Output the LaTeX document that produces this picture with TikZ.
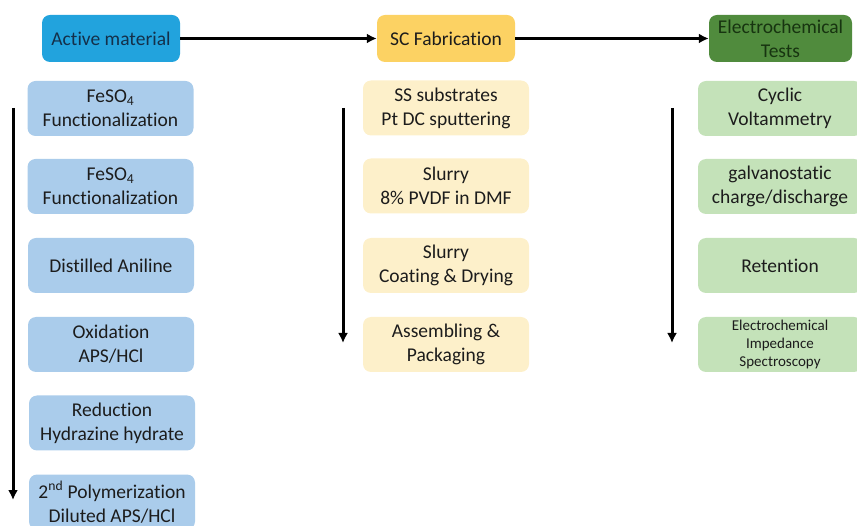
\documentclass[tikz,border=0pt]{standalone}
\usepackage{fontspec}
\setmainfont{Carlito}[Ligatures=NoCommon]
\usetikzlibrary{arrows.meta}

\definecolor{hdrblue}{HTML}{22A3DD}
\definecolor{boxblue}{HTML}{AACCEB}
\definecolor{hdryellow}{HTML}{FCD263}
\definecolor{boxyellow}{HTML}{FDF0CA}
\definecolor{hdrgreen}{HTML}{508B3D}
\definecolor{boxgreen}{HTML}{C4E2B9}
\definecolor{txtdark}{HTML}{1C1C1C}
\definecolor{txtnavy}{HTML}{14304A}
\definecolor{txtgreen}{HTML}{173410}

\tikzset{
  card/.style={rounded corners=8pt, align=center, text=txtdark,
    font=\fontsize{19.5}{24}\selectfont, inner sep=0pt},
  header/.style={card, minimum width=138pt, minimum height=47pt},
  stepcard/.style={card, minimum width=166pt, minimum height=55pt},
  flow/.style={line width=3pt, -{Latex[length=10pt,width=10pt]}},
}

\begin{document}
\begin{tikzpicture}[x=1pt, y=-1pt]
\useasboundingbox (0,0) rectangle (857,526);
\clip (0,0) rectangle (857,526);

% column headers
\node[header, fill=hdrblue, text=txtnavy] (act) at (111,38.5) {Active material};
\node[header, fill=hdryellow] (fab) at (446,38.5) {SC Fabrication};
\node[header, fill=hdrgreen, minimum width=143pt, text=txtgreen] (ect) at (780.5,38.5) {Electrochemical\\Tests};

\draw[flow] (act) -- (fab);
\draw[flow] (fab) -- (ect);

% active material steps
\node[stepcard, fill=boxblue] (a1) at (110.5,108.5) {FeSO\textsubscript{4}\\Functionalization};
\node[stepcard, fill=boxblue] (a2) at (110.5,186.5) {FeSO\textsubscript{4}\\Functionalization};
\node[stepcard, fill=boxblue] (a3) at (111,265.5) {Distilled Aniline};
\node[stepcard, fill=boxblue] (a4) at (111,344.5) {Oxidation\\APS/HCl};
\node[stepcard, fill=boxblue] (a5) at (112,423) {Reduction\\Hydrazine hydrate};
\node[stepcard, fill=boxblue] (a6) at (112,502) {2\textsuperscript{nd} Polymerization\\Diluted APS/HCl};

% fabrication steps
\node[stepcard, fill=boxyellow] (f1) at (446,108) {SS substrates\\Pt DC sputtering};
\node[stepcard, fill=boxyellow] (f2) at (446,186) {Slurry\\8\% PVDF in DMF};
\node[stepcard, fill=boxyellow] (f3) at (446,265.5) {Slurry\\Coating \& Drying};
\node[stepcard, fill=boxyellow] (f4) at (446,344.5) {Assembling \&\\Packaging};

% electrochemical tests
\node[stepcard, fill=boxgreen, minimum width=164pt] (e1) at (780,108.5) {Cyclic\\Voltammetry};
\node[stepcard, fill=boxgreen, minimum width=164pt] (e2) at (780,186.5) {galvanostatic\\charge/discharge};
\node[stepcard, fill=boxgreen, minimum width=164pt] (e3) at (780,265.5) {Retention};
\node[stepcard, fill=boxgreen, minimum width=164pt, font=\fontsize{15}{18}\selectfont] (e4) at (780,344.5) {Electrochemical\\Impedance\\Spectroscopy};

% sequence arrows
\coordinate (as) at (13,108);
\coordinate (ae) at (13,500);
\coordinate (fs) at (343,108);
\coordinate (fe) at (343,343);
\coordinate (es) at (672,108);
\coordinate (ee) at (672,343);
\draw[flow] (as) -- (ae);
\draw[flow] (fs) -- (fe);
\draw[flow] (es) -- (ee);
\end{tikzpicture}
\end{document}
